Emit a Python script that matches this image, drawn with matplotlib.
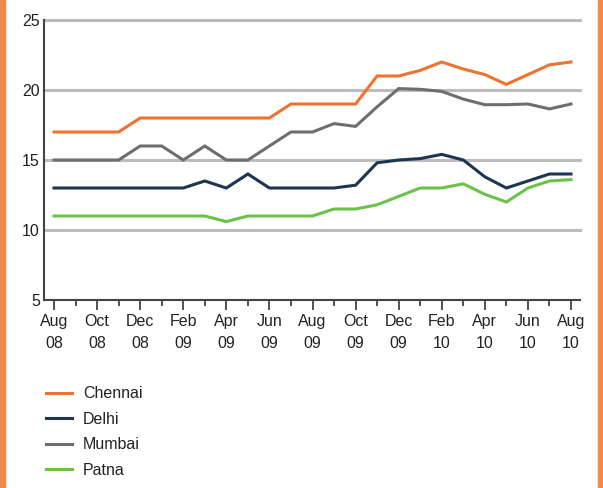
import numpy as np
import matplotlib
matplotlib.use("Agg")
import matplotlib.pyplot as plt
from matplotlib.patches import Rectangle

plt.rcParams['font.family'] = ['Liberation Sans Narrow', 'Liberation Sans', 'DejaVu Sans']

# monthly, Aug 08 .. Aug 10
months = ['Aug 08', 'Sep 08', 'Oct 08', 'Nov 08', 'Dec 08', 'Jan 09', 'Feb 09', 'Mar 09',
          'Apr 09', 'May 09', 'Jun 09', 'Jul 09', 'Aug 09', 'Sep 09', 'Oct 09', 'Nov 09',
          'Dec 09', 'Jan 10', 'Feb 10', 'Mar 10', 'Apr 10', 'May 10', 'Jun 10', 'Jul 10',
          'Aug 10']
tick_labels = ['Aug\n08', 'Oct\n08', 'Dec\n08', 'Feb\n09', 'Apr\n09', 'Jun\n09', 'Aug\n09',
               'Oct\n09', 'Dec\n09', 'Feb\n10', 'Apr\n10', 'Jun\n10', 'Aug\n10']

chennai = [17, 17, 17, 17, 18, 18, 18, 18, 18, 18, 18, 19, 19, 19, 19, 21,
           21, 21.4, 22, 21.5, 21.1, 20.4, 21.1, 21.8, 22]
delhi = [13, 13, 13, 13, 13, 13, 13, 13.5, 13, 14, 13, 13, 13, 13, 13.2, 14.8,
         15, 15.1, 15.4, 15, 13.8, 13, 13.5, 14, 14]
mumbai = [15, 15, 15, 15, 16, 16, 15, 16, 15, 15, 16, 17, 17, 17.6, 17.4, 18.8,
          20.1, 20.05, 19.9, 19.35, 18.95, 18.95, 19, 18.65, 19]
patna = [11, 11, 11, 11, 11, 11, 11, 11, 10.6, 11, 11, 11, 11, 11.5, 11.5, 11.8,
         12.4, 13, 13, 13.3, 12.55, 12, 13, 13.5, 13.6]

series = [('Chennai', chennai, '#ee7330'),
          ('Delhi', delhi, '#1c3550'),
          ('Mumbai', mumbai, '#6e6e6e'),
          ('Patna', patna, '#6cc14a')]

fig = plt.figure(figsize=(6.03, 4.88), dpi=100)
ax = fig.add_axes([44 / 603, 1 - 300 / 488, (580 - 44) / 603, 280 / 488])

x = np.arange(len(months))
for yv in [10, 15, 20, 25]:
    ax.axhline(yv, color='#bcbcbc', lw=2.2, zorder=1, clip_on=False)

for name, vals, col in series:
    ax.plot(x, vals, color=col, lw=2.2, label=name, zorder=3, solid_joinstyle='miter')

ax.set_xlim(-10 / 21.54, 24 + 9 / 21.54)
ax.set_ylim(5, 25)
ax.set_yticks([5, 10, 15, 20, 25])
ax.set_xticks(x[::2])
ax.set_xticklabels(tick_labels)
ax.set_xticks(x[1::2], minor=True)

for s in ['top', 'right']:
    ax.spines[s].set_visible(False)
for s in ['left', 'bottom']:
    ax.spines[s].set_color('#444444')
    ax.spines[s].set_linewidth(1.5)

ax.tick_params(axis='x', which='major', length=7, width=1.3, color='#444444',
               labelsize=11.5, pad=3, labelcolor='#222222')
ax.tick_params(axis='x', which='minor', length=4, width=1.3, color='#444444')
ax.tick_params(axis='y', length=0, labelsize=11.5, pad=3, labelcolor='#222222')
for t in ax.get_xticklabels():
    t.set_linespacing(1.6)

handles, labels = ax.get_legend_handles_labels()
fig.legend(handles, labels, loc='upper left', bbox_to_anchor=(32 / 603, 1 - 372 / 488),
           frameon=False, fontsize=11.5, handlelength=1.6, handletextpad=0.7,
           labelspacing=0.65, labelcolor='#222222')

# orange side borders
fig.patches.append(Rectangle((0, 0), 5 / 603, 1, transform=fig.transFigure,
                             color='#f08a4b', zorder=0))
fig.patches.append(Rectangle((1 - 5 / 603, 0), 5 / 603, 1, transform=fig.transFigure,
                             color='#f08a4b', zorder=0))

fig.savefig('out.png', dpi=100)
